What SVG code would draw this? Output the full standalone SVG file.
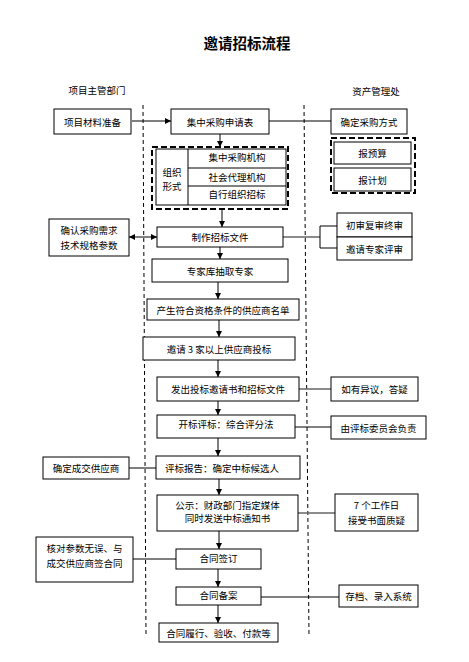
<svg xmlns="http://www.w3.org/2000/svg" width="469" height="662" viewBox="0 0 469 662">
<style>
.b{fill:#fff;stroke:#000;stroke-width:1}
.t{font-family:"Noto Sans CJK SC","Liberation Sans",sans-serif;font-size:9.5px;fill:#000;text-anchor:middle;dominant-baseline:central}
.ln{stroke:#000;stroke-width:1;fill:none}
.g{stroke:#666;stroke-width:1.5;fill:none}
.lane{stroke:#000;stroke-width:1;stroke-dasharray:4,3;fill:none}
.db{fill:none;stroke:#000;stroke-width:2;stroke-dasharray:6,3}
</style>
<defs>
<marker id="ah" viewBox="0 0 8 8" refX="8" refY="4" markerWidth="6" markerHeight="6" orient="auto-start-reverse" markerUnits="userSpaceOnUse">
<path d="M0,0 L8,4 L0,8 z" fill="#000"/>
</marker>
</defs>
<rect width="469" height="662" fill="#fff"/>
<text x="247" y="42" class="t" style="font-size:14.5px;font-weight:bold">邀请招标流程</text>
<text x="97" y="90" class="t">项目主管部门</text>
<text x="376" y="91" class="t">资产管理处</text>
<g id="lanes">
<line class="lane" x1="143" y1="105" x2="146" y2="636"/>
<line class="lane" x1="304" y1="105" x2="309" y2="636"/>
</g>
<g id="connectors">
<line class="ln" x1="132" y1="121" x2="171" y2="121" marker-end="url(#ah)"/>
<line class="ln" x1="269" y1="121" x2="331" y2="121"/>
<line class="ln" x1="220" y1="134" x2="220" y2="147" marker-end="url(#ah)"/>
<line class="ln" x1="222" y1="209" x2="222" y2="227" marker-end="url(#ah)"/>
<line class="ln" x1="129" y1="237" x2="157" y2="237" marker-start="url(#ah)" marker-end="url(#ah)"/>
<line class="g" x1="283" y1="237" x2="320" y2="237"/>
<path class="ln" d="M337,226 H320 V248 H337"/>
<line class="ln" x1="220" y1="247" x2="220" y2="259" marker-end="url(#ah)"/>
<line class="ln" x1="218" y1="282" x2="218" y2="299" marker-end="url(#ah)"/>
<line class="ln" x1="219" y1="320" x2="219" y2="337" marker-end="url(#ah)"/>
<line class="ln" x1="218" y1="360" x2="218" y2="377" marker-end="url(#ah)"/>
<line class="g" x1="299" y1="389" x2="331" y2="389"/>
<line class="ln" x1="218" y1="401" x2="218" y2="415" marker-end="url(#ah)"/>
<line class="ln" x1="295" y1="427" x2="331" y2="427"/>
<line class="ln" x1="218" y1="438" x2="218" y2="456" marker-end="url(#ah)"/>
<line class="ln" x1="129" y1="468" x2="156" y2="468"/>
<line class="ln" x1="219" y1="479" x2="219" y2="495" marker-end="url(#ah)"/>
<line class="g" x1="298" y1="513" x2="335" y2="513"/>
<line class="ln" x1="219" y1="531" x2="219" y2="549" marker-end="url(#ah)"/>
<line class="ln" x1="133" y1="559" x2="176" y2="559"/>
<line class="ln" x1="218" y1="569" x2="218" y2="587" marker-end="url(#ah)"/>
<line class="ln" x1="261" y1="597" x2="339" y2="597"/>
<line class="ln" x1="218" y1="605" x2="218" y2="623" marker-end="url(#ah)"/>
</g>
<g id="n1"><rect class="b" x="54" y="109" width="77" height="25"/><text class="t" x="92.5" y="121.5">项目材料准备</text></g>
<g id="n2"><rect class="b" x="171" y="109" width="98" height="25"/><text class="t" x="220" y="121.5">集中采购申请表</text></g>
<g id="n3"><rect class="b" x="331" y="109" width="76" height="25"/><text class="t" x="369" y="121.5">确定采购方式</text></g>
<g id="n4">
<rect class="db" x="152" y="147" width="136" height="62"/>
<rect class="b" x="156" y="149" width="130" height="56"/>
<line class="ln" x1="188" y1="149" x2="188" y2="205"/>
<line class="ln" x1="188" y1="168" x2="286" y2="168"/>
<line class="ln" x1="188" y1="186" x2="286" y2="186"/>
<text class="t" x="172" y="172">组织</text>
<text class="t" x="172" y="186">形式</text>
<text class="t" x="237" y="157">集中采购机构</text>
<text class="t" x="237" y="177">社会代理机构</text>
<text class="t" x="237" y="194">自行组织招标</text>
</g>
<g id="n5">
<rect class="db" x="331" y="138" width="84" height="55"/>
<rect class="b" x="334" y="142" width="77" height="22"/>
<rect class="b" x="334" y="168" width="77" height="23"/>
<text class="t" x="372.5" y="153">报预算</text>
<text class="t" x="372.5" y="179.5">报计划</text>
</g>
<g id="n6"><rect class="b" x="49" y="219" width="80" height="37"/><text class="t" x="89" y="230">确认采购需求</text><text class="t" x="89" y="245">技术规格参数</text></g>
<g id="n7"><rect class="b" x="157" y="227" width="126" height="20"/><text class="t" x="220" y="237">制作招标文件</text></g>
<g id="n8"><rect class="b" x="337" y="213" width="75" height="24"/><text class="t" x="374.5" y="225">初审复审终审</text><rect class="b" x="337" y="237" width="75" height="23"/><text class="t" x="374.5" y="248.5">邀请专家评审</text></g>
<g id="n9"><rect class="b" x="152" y="259" width="136" height="23"/><text class="t" x="220" y="270.5">专家库抽取专家</text></g>
<g id="n10"><rect class="b" x="147" y="299" width="152" height="21"/><text class="t" x="223" y="310">产生符合资格条件的供应商名单</text></g>
<g id="n11"><rect class="b" x="143" y="337" width="152" height="23"/><text class="t" x="219" y="349">邀请 3 家以上供应商投标</text></g>
<g id="n12"><rect class="b" x="157" y="377" width="142" height="24"/><text class="t" x="228" y="389">发出投标邀请书和招标文件</text></g>
<g id="n13"><rect class="b" x="331" y="377" width="87" height="24"/><text class="t" x="374.5" y="389">如有异议，答疑</text></g>
<g id="n14"><rect class="b" x="157" y="415" width="138" height="23"/><text class="t" x="226" y="424">开标评标：综合评分法</text></g>
<g id="n15"><rect class="b" x="331" y="416" width="95" height="23"/><text class="t" x="378.5" y="427.5">由评标委员会负责</text></g>
<g id="n16"><rect class="b" x="43" y="457" width="86" height="22"/><text class="t" x="86" y="468">确定成交供应商</text></g>
<g id="n17"><rect class="b" x="156" y="456" width="144" height="23"/><text class="t" x="222" y="467.5">评标报告：确定中标候选人</text></g>
<g id="n18"><rect class="b" x="157" y="495" width="141" height="36"/><text class="t" x="227.5" y="505">公示：财政部门指定媒体</text><text class="t" x="227.5" y="518">同时发送中标通知书</text></g>
<g id="n19"><rect class="b" x="335" y="494" width="83" height="37"/><text class="t" x="376.5" y="505">7 个工作日</text><text class="t" x="376.5" y="520">接受书面质疑</text></g>
<g id="n20"><rect class="b" x="36" y="537" width="97" height="45"/><text class="t" x="84.5" y="548">核对参数无误、与</text><text class="t" x="84.5" y="563">成交供应商签合同</text></g>
<g id="n21"><rect class="b" x="176" y="549" width="85" height="20"/><text class="t" x="218.5" y="558">合同签订</text></g>
<g id="n22"><rect class="b" x="176" y="587" width="85" height="18"/><text class="t" x="218.5" y="595">合同备案</text></g>
<g id="n23"><rect class="b" x="339" y="585" width="79" height="22"/><text class="t" x="378.5" y="596">存档、录入系统</text></g>
<g id="n24"><rect class="b" x="159" y="623" width="119" height="19"/><text class="t" x="218.5" y="632.5">合同履行、验收、付款等</text></g>
</svg>
